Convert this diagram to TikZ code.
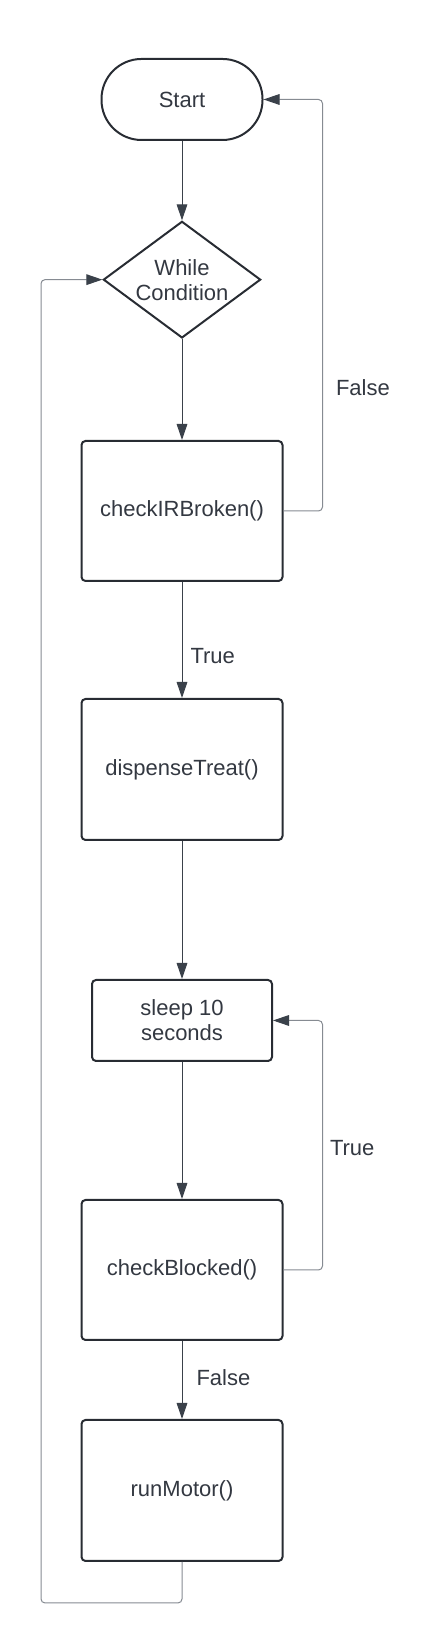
\documentclass[tikz,border=0pt]{standalone}
\usepackage{fontspec}
\setmainfont{Liberation Sans}
\usepackage{tikz}
\usetikzlibrary{arrows.meta,positioning,shapes.geometric}
\usepackage{xcolor}
\definecolor{boxline}{HTML}{282C33}
\definecolor{txt}{HTML}{333841}
\definecolor{arrline}{HTML}{3A414A}
\definecolor{loopline}{HTML}{868B92}
\newcommand{\flowfont}{\fontsize{16.5}{18.75}\selectfont}

\begin{document}
\begin{tikzpicture}[
  node distance=60pt,
  term/.style={draw=boxline, line width=1.5pt, rounded corners=30pt, minimum width=120.75pt, minimum height=60.75pt, font=\flowfont, text=txt},
  cond/.style={draw=boxline, line width=1.5pt, diamond, aspect=1.357, inner sep=0pt, minimum width=118pt, minimum height=87.5pt, align=center, font=\flowfont, text=txt},
  proc/.style={draw=boxline, line width=1.5pt, rounded corners=3pt, minimum width=150.75pt, minimum height=105pt, align=center, font=\flowfont, text=txt},
  arr/.style={-{Triangle[length=12pt, width=8pt]}, line width=0.75pt, draw=arrline},
  back/.style={-{Triangle[length=12pt, width=8pt, color=arrline]}, line width=0.75pt, draw=loopline, rounded corners=3pt},
  lbl/.style={font=\flowfont, text=txt, inner sep=0pt, anchor=west}
]
\useasboundingbox (0,0) rectangle (329.25pt,-1232.25pt);

\node[term] (start) at (136.5pt,-74.6pt) {Start};
\node[cond, below=59.5pt of start] (while) {While\\Condition};
\node[proc, below=75.75pt of while] (checkir) {checkIRBroken()};
\node[proc, below=87pt of checkir, minimum height=105.75pt] (dispense) {dispenseTreat()};
\node[proc, below=103.5pt of dispense, minimum width=135pt, minimum height=60.75pt] (sleep) {sleep 10\\seconds};
\node[proc, below=102.75pt of sleep] (blocked) {checkBlocked()};
\node[proc, below=58.5pt of blocked, minimum height=105.75pt] (motor) {runMotor()};

\draw[arr] (start) -- (while);
\draw[arr] (while) -- (checkir);
\draw[back] (checkir.east) -- ++(29.25pt,0) |- node[lbl, pos=0.15, xshift=9.75pt] (falseir) {False} (start.east);
\draw[arr] (checkir) -- node[lbl, pos=0.64, xshift=6pt] (trueir) {True} (dispense);
\draw[arr] (dispense) -- (sleep);
\draw[arr] (sleep) -- (blocked);
\draw[back] (blocked.east) -- ++(29.25pt,0) |- node[lbl, pos=0.245, xshift=5.25pt] (trueblk) {True} (sleep.east);
\draw[arr] (blocked) -- node[lbl, pos=0.475, xshift=10.5pt] (falseblk) {False} (motor);
\draw[back] (motor.south) -- ++(0,-30.75pt) -| ([xshift=-46pt]while.west) -- (while.west);
\end{tikzpicture}
\end{document}
